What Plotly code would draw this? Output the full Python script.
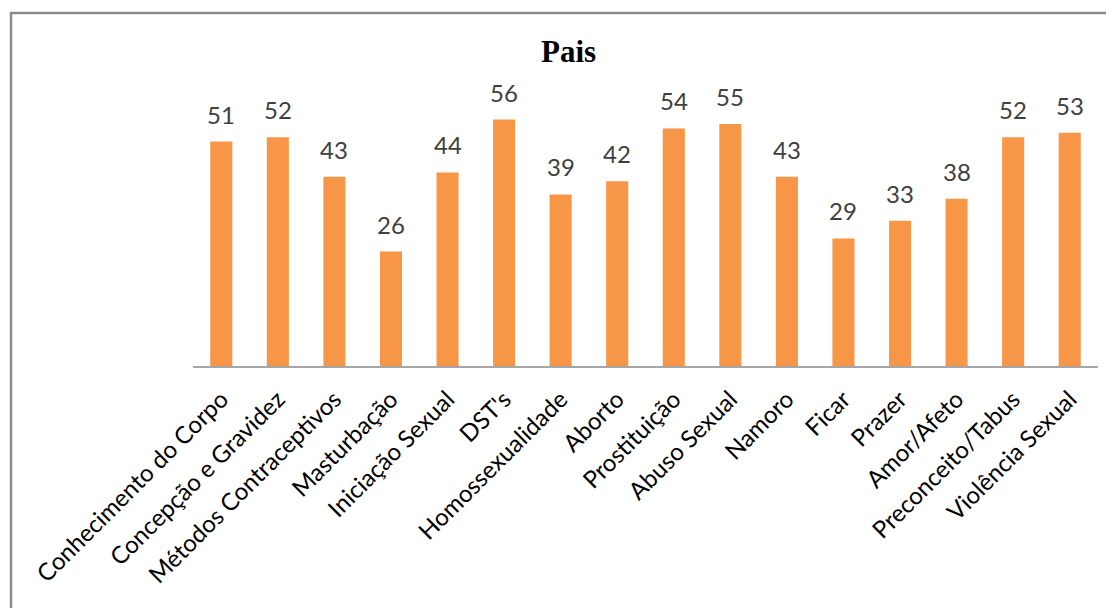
import plotly.graph_objects as go

categories = ["Conhecimento do Corpo", "Concepção e Gravidez", "Métodos Contraceptivos",
              "Masturbação", "Iniciação Sexual", "DST's", "Homossexualidade", "Aborto",
              "Prostituição", "Abuso Sexual", "Namoro", "Ficar", "Prazer", "Amor/Afeto",
              "Preconceito/Tabus", "Violência Sexual"]
values = [51, 52, 43, 26, 44, 56, 39, 42, 54, 55, 43, 29, 33, 38, 52, 53]
title_text = "Pais"

OFF = 8  # page body margin
W, H = 1114 - OFF, 608 - OFF
L, R, T, B = 193 - OFF, 1114 - 1098, 102 - OFF, 608 - 366
pw = W - L - R
ph = H - T - B

def px(x):
    return (x - OFF - L) / pw

def py(y):
    return (OFF + T + ph - y) / ph

fig = go.Figure()
fig.add_trace(go.Bar(
    x=categories, y=values,
    marker=dict(color="#F79646", line=dict(width=0)),
    width=0.39,
    hoverinfo="x+y",
))

for c, v in zip(categories, values):
    fig.add_annotation(x=c, y=v, text=str(v), showarrow=False, yanchor="bottom",
                       yshift=11, font=dict(family="Lato, Carlito, sans-serif", size=24, color="#404040"))

fig.add_annotation(xref="paper", yref="paper", x=px(568), y=py(52), text="<b>" + title_text + "</b>",
                   showarrow=False, xanchor="center", yanchor="middle",
                   font=dict(family="Liberation Serif, Times New Roman, serif", size=31, color="#000000"))

fig.add_shape(type="rect", xref="paper", yref="paper",
              x0=px(11), x1=px(1125), y0=py(13), y1=py(640),
              line=dict(color="#8a8a8a", width=2.5), fillcolor="rgba(0,0,0,0)", layer="below")

fig.update_layout(
    width=W, height=H,
    margin=dict(l=L, r=R, t=T, b=B),
    paper_bgcolor="white", plot_bgcolor="white",
    showlegend=False,
    bargap=0.61,
    xaxis=dict(showline=True, linecolor="#a6a6a6", linewidth=1.5, ticks="",
               tickangle=-45, tickfont=dict(family="Lato, Carlito, sans-serif", size=24, color="#000000"),
               showgrid=False, ticklabelstandoff=8),
    yaxis=dict(range=[0, 60], visible=False, showgrid=False),
)

fig.write_html("out.html")
